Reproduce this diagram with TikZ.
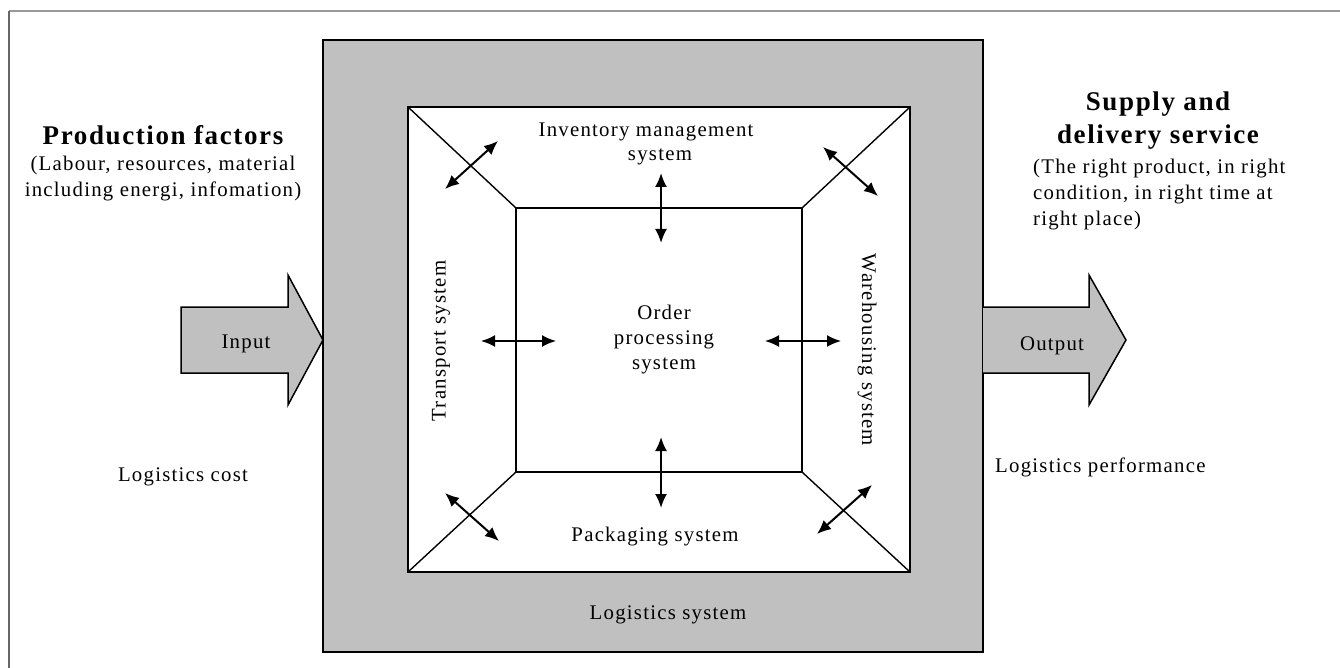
\documentclass[tikz,border=0pt]{standalone}
\usepackage{fontspec}
\setmainfont{Liberation Serif}[LetterSpace=6]
\usetikzlibrary{arrows.meta}
\definecolor{boxgray}{HTML}{C0C0C0}
\tikzset{
  box/.style={draw=black, line width=1.8pt},
  diag/.style={draw=black, line width=1.4pt},
  dbl/.style={line width=2pt, {Latex[length=14pt,width=12pt]}-{Latex[length=14pt,width=12pt]}},
  txt/.style={font=\fontsize{20.8}{26}\selectfont, inner sep=0pt, anchor=base},
  head/.style={font=\fontsize{27}{32}\selectfont\bfseries, inner sep=0pt, anchor=base},
  bigarrow/.style={draw=black, line width=1.5pt, fill=boxgray, line join=miter}
}
\begin{document}
\begin{tikzpicture}[x=1pt,y=-1pt]
\useasboundingbox (0,0) rectangle (1340,668);
% page frame
\draw[line width=2pt, color=black!40] (9,11) -- (1340,11);
\draw[line width=2pt, color=black!60] (9,11) -- (9,668);

% logistics system gray box
\draw[box, fill=boxgray] (323,40) rectangle (983,652);
% outer white square and inner square
\coordinate (OTL) at (408,107);
\coordinate (OTR) at (910,107);
\coordinate (OBR) at (910,572);
\coordinate (OBL) at (408,572);
\coordinate (ITL) at (516,208);
\coordinate (ITR) at (802,208);
\coordinate (IBR) at (802,472);
\coordinate (IBL) at (516,472);
\draw[box, fill=white] (OTL) -- (OTR) -- (OBR) -- (OBL) -- cycle;
\draw[box] (ITL) -- (ITR) -- (IBR) -- (IBL) -- cycle;
\draw[diag] (OTL) -- (ITL);
\draw[diag] (OTR) -- (ITR);
\draw[diag] (OBR) -- (IBR);
\draw[diag] (OBL) -- (IBL);

% double arrows
\coordinate (a1) at (661,173); \coordinate (a2) at (661,243);
\coordinate (b1) at (661,437); \coordinate (b2) at (661,508);
\coordinate (c1) at (481,341); \coordinate (c2) at (556,341);
\coordinate (d1) at (765,341); \coordinate (d2) at (841,341);
\coordinate (e1) at (445,189); \coordinate (e2) at (498,141);
\coordinate (f1) at (823,147); \coordinate (f2) at (878,196);
\coordinate (g1) at (445,493); \coordinate (g2) at (499,541);
\coordinate (h1) at (817,534); \coordinate (h2) at (872,485);
\draw[dbl] (a1) -- (a2);
\draw[dbl] (b1) -- (b2);
\draw[dbl] (c1) -- (c2);
\draw[dbl] (d1) -- (d2);
\draw[dbl] (e1) -- (e2);
\draw[dbl] (f1) -- (f2);
\draw[dbl] (g1) -- (g2);
\draw[dbl] (h1) -- (h2);

% input / output arrows
\draw[bigarrow] (181,307) -- (288,307) -- (288,275) -- (323,340) -- (288,405) -- (288,373) -- (181,373) -- cycle;
\draw[bigarrow] (983,307) -- (1089,307) -- (1089,275) -- (1126,340) -- (1089,405) -- (1089,373) -- (983,373);
\node[txt] (input) at (246,348) {Input};
\node[txt] (output) at (1052,350) {Output};

% texts inside
\node[txt] (inv1) at (646,137) {Inventory management};
\node[txt] (inv2) at (660,161) {system};
\node[txt] (ord1) at (664,319) {Order};
\node[txt] (ord2) at (664,344) {processing};
\node[txt] (ord3) at (664,369) {system};
\node[txt] (pack) at (655,541) {Packaging system};
\node[txt] (lsys) at (668,619) {Logistics system};
\node[font=\fontsize{20.8}{26}\selectfont, inner sep=0pt, rotate=90] (trans) at (441,341) {Transport system};
\node[font=\fontsize{20.8}{26}\selectfont, inner sep=0pt, rotate=-90] (ware) at (867,350) {Warehousing system};

% left side texts
\node[head] (pf) at (163,145) {Production factors};
\node[txt] (pf1) at (163,171) {(Labour, resources, material};
\node[txt] (pf2) at (163,197) {including energi, infomation)};
\node[txt] (lcost) at (183,481) {Logistics cost};

% right side texts
\node[head] (sd1) at (1158,111) {Supply and};
\node[head] (sd2) at (1158,144) {delivery service};
\node[txt, anchor=base west] (sd3) at (1033,174) {(The right product, in right};
\node[txt, anchor=base west] (sd4) at (1033,200) {condition, in right time at};
\node[txt, anchor=base west] (sd5) at (1033,226) {right place)};
\node[txt, anchor=base west] (lperf) at (995,472) {Logistics performance};
\end{tikzpicture}
\end{document}
